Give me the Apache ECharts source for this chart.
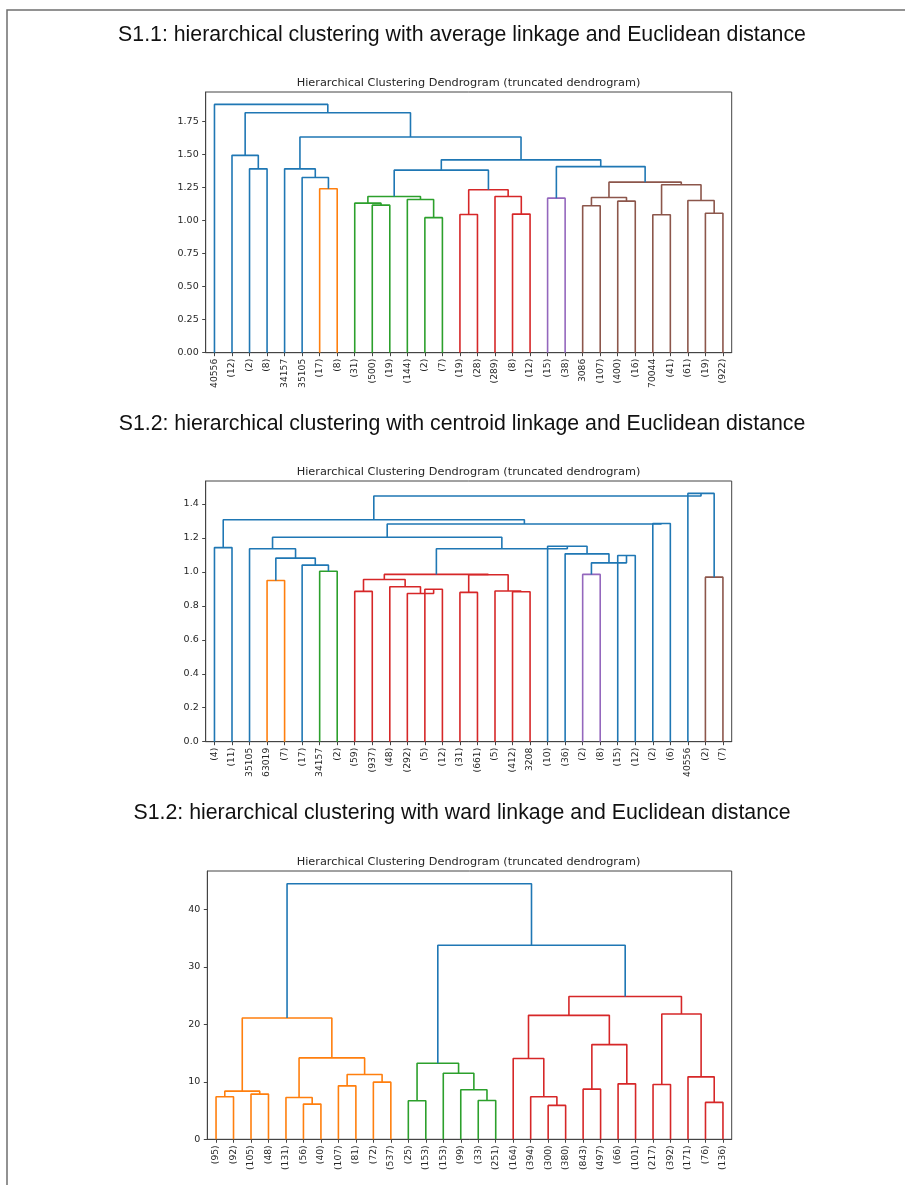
<!DOCTYPE html>
<html>
<head>
<meta charset="utf-8">
<script src="https://cdn.jsdelivr.net/npm/echarts@6/dist/echarts.min.js"></script>
<style>
html,body{margin:0;padding:0;background:#fff;}
#chart{width:905px;height:1185px;}
</style>
</head>
<body>
<div id="chart"></div>
<script>
// ---------- Data ----------
const pageTitles = [
  "S1.1: hierarchical clustering with average linkage and Euclidean distance",
  "S1.2: hierarchical clustering with centroid linkage and Euclidean distance",
  "S1.2: hierarchical clustering with ward linkage and Euclidean distance"
];
const chartTitle = "Hierarchical Clustering Dendrogram (truncated dendrogram)";

// Panel 1: average linkage — leaf labels (left to right)
const labels1 = ["40556","(12)","(2)","(8)","34157","35105","(17)","(8)","(31)","(500)","(19)","(144)","(2)","(7)","(19)","(28)","(289)","(8)","(12)","(15)","(38)","3086","(107)","(400)","(16)","70044","(41)","(61)","(19)","(922)"];
// merges: [left child, right child, height, colour]; children < 30 are leaves, >= 30 are earlier merges
const merges1 = [
  [2,3,1.393,"C0"],[1,30,1.495,"C0"],[6,7,1.242,"C1"],[5,32,1.327,"C0"],[4,33,1.393,"C0"],
  [9,10,1.118,"C2"],[8,35,1.133,"C2"],[12,13,1.023,"C2"],[11,37,1.161,"C2"],[36,38,1.183,"C2"],
  [14,15,1.047,"C3"],[17,18,1.050,"C3"],[16,41,1.183,"C3"],[40,42,1.234,"C3"],[39,43,1.383,"C0"],
  [19,20,1.171,"C4"],[21,22,1.113,"C5"],[23,24,1.148,"C5"],[46,47,1.176,"C5"],[25,26,1.045,"C5"],
  [28,29,1.057,"C5"],[27,50,1.153,"C5"],[49,51,1.272,"C5"],[48,52,1.292,"C5"],[45,53,1.410,"C0"],
  [44,54,1.461,"C0"],[34,55,1.634,"C0"],[31,56,1.818,"C0"],[0,57,1.881,"C0"]
];

// Panel 2: centroid linkage
const labels2 = ["(4)","(11)","35105","63019","(7)","(17)","34157","(2)","(59)","(937)","(48)","(292)","(5)","(12)","(31)","(661)","(5)","(412)","3208","(10)","(36)","(2)","(8)","(15)","(12)","(2)","(6)","40556","(2)","(7)"];
const merges2 = [
  [0,1,1.143,"C0"],[3,4,0.949,"C1"],[6,7,1.004,"C2"],[5,32,1.040,"C0"],[31,33,1.081,"C0"],
  [2,34,1.136,"C0"],[8,9,0.885,"C3"],[12,13,0.898,"C3"],[11,37,0.873,"C3"],[10,38,0.912,"C3"],
  [36,39,0.955,"C3"],[14,15,0.879,"C3"],[17,18,0.883,"C3"],[16,42,0.887,"C3"],[41,43,0.983,"C3"],
  [40,44,0.985,"C3"],[21,22,0.985,"C4"],[23,24,1.096,"C0"],[46,47,1.053,"C0"],[20,48,1.106,"C0"],
  [19,49,1.151,"C0"],[45,50,1.136,"C0"],[35,51,1.204,"C0"],[25,26,1.285,"C0"],[52,53,1.282,"C0"],
  [30,54,1.307,"C0"],[28,29,0.969,"C5"],[27,56,1.462,"C0"],[55,57,1.447,"C0"]
];

// Panel 3: ward linkage
const labels3 = ["(95)","(92)","(105)","(48)","(131)","(56)","(40)","(107)","(81)","(72)","(537)","(25)","(153)","(153)","(99)","(33)","(251)","(164)","(394)","(300)","(380)","(843)","(497)","(66)","(101)","(217)","(392)","(171)","(76)","(136)"];
const merges3 = [
  [0,1,7.39,"C1"],[2,3,7.86,"C1"],[30,31,8.38,"C1"],[5,6,6.12,"C1"],[4,33,7.28,"C1"],
  [7,8,9.30,"C1"],[9,10,9.94,"C1"],[35,36,11.27,"C1"],[34,37,14.16,"C1"],[32,38,21.09,"C1"],
  [11,12,6.70,"C2"],[15,16,6.76,"C2"],[14,41,8.61,"C2"],[13,42,11.50,"C2"],[40,43,13.23,"C2"],
  [19,20,5.90,"C3"],[18,45,7.39,"C3"],[17,46,14.05,"C3"],[21,22,8.72,"C3"],[23,24,9.65,"C3"],
  [48,49,16.47,"C3"],[47,50,21.56,"C3"],[25,26,9.53,"C3"],[28,29,6.42,"C3"],[27,53,10.86,"C3"],
  [52,54,21.79,"C3"],[51,55,24.85,"C3"],[44,56,33.75,"C0"],[39,57,44.45,"C0"]
];

// y tick settings per panel
const yIntervals = [0.25, 0.2, 10];
const yDecimals = [2, 1, 0];

// ---------- Styling / layout ----------
const PAL = {C0:"#1f77b4",C1:"#ff7f0e",C2:"#2ca02c",C3:"#d62728",C4:"#9467bd",C5:"#8c564b"};
const grids = [
  {left:205.7, top:92, width:526, height:260.7},
  {left:205.7, top:481, width:526, height:260.7},
  {left:207.3, top:871, width:524.4, height:268.3}
];
const pageTitleY = [20, 409, 798];
const TXT = "#262626";
const SPINE = "#444";

const panels = [[labels1,merges1],[labels2,merges2],[labels3,merges3]];

const option = {
  animation:false,
  backgroundColor:"#fff",
  title:[], grid:[], xAxis:[], yAxis:[], series:[],
  graphic:[{
    type:"rect", shape:{x:7,y:10,width:920,height:1200},
    style:{fill:"none",stroke:"#6f6f6f",lineWidth:1.5}, silent:true
  }]
};

panels.forEach(([labels, merges], p) => {
  const n = labels.length;
  const nodeX = [], nodeY = [];
  for (let i=0;i<n;i++){ nodeX.push(5+10*i); nodeY.push(0); }
  merges.forEach(m => { nodeX.push((nodeX[m[0]]+nodeX[m[1]])/2); nodeY.push(m[2]); });
  const maxH = Math.max(...merges.map(m=>m[2]));
  const g = grids[p];

  option.title.push({
    text: pageTitles[p], left: 457, top: pageTitleY[p], textAlign:"center",
    textStyle:{fontFamily:"Liberation Sans, Arial, sans-serif", fontSize:21.3, fontWeight:"normal", color:"#111"}
  });
  option.title.push({
    text: chartTitle, left: 463.5, top: g.top - 19, textAlign:"center",
    textStyle:{fontFamily:"DejaVu Sans, sans-serif", fontSize:11.3, fontWeight:"normal", color:TXT}
  });
  option.grid.push(Object.assign({show:true, borderColor:SPINE, borderWidth:1, backgroundColor:"transparent", containLabel:false}, g));

  option.xAxis.push({
    type:"category", gridIndex:p, data:labels, boundaryGap:true, position:"bottom",
    axisLine:{show:true, lineStyle:{color:SPINE, width:1}},
    axisTick:{show:true, alignWithLabel:true, interval:0, length:3.5, lineStyle:{color:SPINE}},
    axisLabel:{show:true, interval:0, rotate:90, margin:6, color:TXT, fontSize:9.2, fontFamily:"DejaVu Sans, sans-serif"},
    splitLine:{show:false}
  });
  const valIdx = option.xAxis.length;
  option.xAxis.push({type:"value", gridIndex:p, min:0, max:10*n, show:false, splitLine:{show:false}});

  const yIdx = option.yAxis.length;
  option.yAxis.push({
    type:"value", gridIndex:p, min:0, max: maxH*1.05, interval:yIntervals[p],
    axisLine:{show:true, lineStyle:{color:SPINE, width:1}},
    axisTick:{show:true, length:3.5, lineStyle:{color:SPINE}},
    axisLabel:{color:TXT, fontSize:9.5, fontFamily:"DejaVu Sans, sans-serif", margin:7, showMaxLabel:false,
      formatter: v => Number(v).toFixed(yDecimals[p])},
    splitLine:{show:false}
  });

  merges.forEach((m) => {
    const a = m[0], b = m[1], h = m[2];
    option.series.push({
      type:"line", xAxisIndex:valIdx, yAxisIndex:yIdx, symbol:"none", silent:true,
      data:[[nodeX[a],nodeY[a]],[nodeX[a],h],[nodeX[b],h],[nodeX[b],nodeY[b]]],
      lineStyle:{color:PAL[m[3]], width:1.6}, z:3
    });
  });
});

const chart = echarts.init(document.getElementById("chart"), null, {renderer:"canvas"});
chart.setOption(option);
</script>
</body>
</html>
